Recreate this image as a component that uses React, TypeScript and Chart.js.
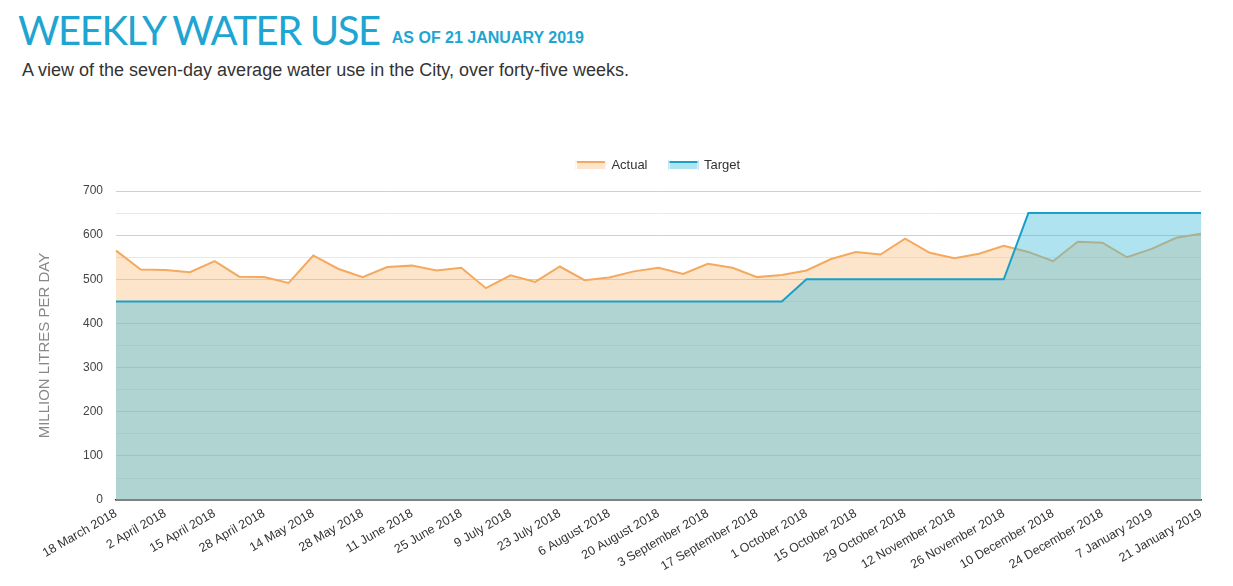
import { useEffect, useRef } from 'react';
import { Chart, registerables } from 'chart.js';

Chart.register(...registerables);

// labels shown under the axis, one every second week
const tickLabels = [
  '18 March 2018', '2 April 2018', '15 April 2018', '28 April 2018', '14 May 2018',
  '28 May 2018', '11 June 2018', '25 June 2018', '9 July 2018', '23 July 2018',
  '6 August 2018', '20 August 2018', '3 September 2018', '17 September 2018',
  '1 October 2018', '15 October 2018', '29 October 2018', '12 November 2018',
  '26 November 2018', '10 December 2018', '24 December 2018', '7 January 2019',
  '21 January 2019',
];

const actual = [
  565, 522, 521, 516, 541, 506, 505, 492, 554, 524,
  505, 528, 531, 520, 526, 480, 509, 494, 529, 498,
  504, 518, 526, 512, 535, 526, 505, 510, 520, 546,
  562, 556, 592, 560, 548, 558, 576, 562, 541, 585,
  583, 550, 569, 594, 603,
];

const target = [
  450, 450, 450, 450, 450, 450, 450, 450, 450, 450,
  450, 450, 450, 450, 450, 450, 450, 450, 450, 450,
  450, 450, 450, 450, 450, 450, 450, 450, 500, 500,
  500, 500, 500, 500, 500, 500, 500, 650, 650, 650,
  650, 650, 650, 650, 650,
];

const weeks = actual.map((_, i) => (i % 2 === 0 ? tickLabels[i / 2] : ''));

const FONT = "'Liberation Sans', Arial, sans-serif";
const LEGEND_PAD = 22;
const LEGEND_FONT = 13;

// centre the legend over the plot area and keep it a fixed gap above it
const legendPlace = {
  id: 'legendPlace',
  afterLayout(chart: any) {
    const legend = chart.legend;
    const area = chart.chartArea;
    if (!legend || !area) return;
    const h = legend.bottom - legend.top;
    legend.left = area.left;
    legend.right = area.right;
    legend.width = area.right - area.left;
    legend.top = area.top - 26 - LEGEND_PAD - LEGEND_FONT / 2;
    legend.bottom = legend.top + h;
  },
};

// legend swatch: a filled box with a coloured line on top
const legendLines = {
  id: 'legendLines',
  afterDraw(chart: any) {
    const legend = chart.legend;
    if (!legend || !legend.legendHitBoxes) return;
    const ctx = chart.ctx;
    legend.legendHitBoxes.forEach((box: any, i: number) => {
      const item = legend.legendItems[i];
      const ds = chart.data.datasets[item.datasetIndex];
      const h = 8;
      const y = box.top + (box.height - h) / 2;
      ctx.save();
      ctx.fillStyle = '#fff';
      ctx.fillRect(box.left - 1, y - 2, 30, h + 4);
      ctx.fillStyle = ds.legendFill;
      ctx.fillRect(box.left, y, 28, h);
      ctx.strokeStyle = ds.borderColor;
      ctx.lineWidth = 2;
      ctx.beginPath();
      ctx.moveTo(box.left, y + 1);
      ctx.lineTo(box.left + 28, y + 1);
      ctx.stroke();
      ctx.restore();
    });
  },
};

function WaterChart() {
  const canvasRef = useRef<HTMLCanvasElement>(null);
  const chartRef = useRef<Chart | null>(null);

  useEffect(() => {
    if (!canvasRef.current) return;
    const ctx = canvasRef.current.getContext('2d');
    if (!ctx) return;

    chartRef.current = new Chart(ctx, {
      type: 'line',
      plugins: [legendPlace, legendLines],
      data: {
        labels: weeks,
        datasets: [
          {
            label: 'Actual',
            data: actual,
            borderColor: '#f4a95f',
            backgroundColor: 'rgba(250, 190, 127, 0.4)',
            legendFill: '#fde5cc',
            fill: 'origin',
            borderWidth: 2,
            pointRadius: 0,
            tension: 0,
            order: 1,
          } as any,
          {
            label: 'Target',
            data: target,
            borderColor: '#1aa0c8',
            backgroundColor: 'rgba(67, 188, 219, 0.42)',
            legendFill: '#b0e3f0',
            fill: 'origin',
            borderWidth: 2,
            pointRadius: 0,
            tension: 0,
            order: 0,
          } as any,
        ],
      },
      options: {
        animation: false,
        responsive: true,
        maintainAspectRatio: false,
        layout: { padding: { left: 36, right: 32, top: 12, bottom: 0 } },
        plugins: {
          tooltip: { enabled: false },
          legend: {
            display: true,
            position: 'top',
            labels: {
              color: '#333',
              font: { family: FONT, size: LEGEND_FONT },
              boxWidth: 28,
              boxHeight: 8,
              padding: LEGEND_PAD,
              sort: (a: any, b: any) => a.datasetIndex - b.datasetIndex,
            },
          },
        },
        scales: {
          x: {
            offset: false,
            grid: { display: false, drawTicks: false },
            border: { display: true, color: '#333', width: 1.5 },
            ticks: {
              autoSkip: false,
              minRotation: 30,
              maxRotation: 30,
              color: '#333',
              padding: 6,
              font: { family: FONT, size: 12.5 },
            },
          },
          y: {
            min: 0,
            max: 700,
            border: { display: false },
            grid: {
              drawTicks: false,
              color: (c: any) => (c.tick && c.tick.value % 100 === 0 ? '#cfcfcf' : '#e8e8e8'),
            },
            ticks: {
              stepSize: 50,
              color: '#444',
              padding: 13,
              font: { family: FONT, size: 12 },
              callback: (val: any) => (Number(val) % 100 === 0 ? String(val) : ''),
            },
            title: {
              display: true,
              text: 'MILLION LITRES PER DAY',
              color: '#888',
              padding: { top: 0, bottom: 16 },
              font: { family: FONT, size: 15 },
            },
          },
        },
      },
    });

    return () => {
      if (chartRef.current) {
        chartRef.current.destroy();
        chartRef.current = null;
      }
    };
  }, []);

  return (
    <div style={{ position: 'absolute', left: 0, top: 134, width: 1233, height: 446 }}>
      <canvas ref={canvasRef} />
    </div>
  );
}

export default function App() {
  return (
    <div style={{ position: 'absolute', left: 0, top: 0, width: 1233, height: 586, background: '#fff' }}>
      <div style={{ position: 'absolute', left: 18, top: 6, whiteSpace: 'nowrap' }}>
        <span
          style={{
            fontFamily: 'Lato, sans-serif',
            fontSize: 40,
            color: '#1ea5d1',
            letterSpacing: -1.4,
          }}
        >
          WEEKLY WATER USE
        </span>
        <span
          style={{
            fontFamily: FONT,
            fontWeight: 'bold',
            fontSize: 16,
            color: '#1ea5d1',
            marginLeft: 12,
            position: 'relative',
            top: -2,
          }}
        >
          AS OF 21 JANUARY 2019
        </span>
      </div>
      <div
        style={{
          position: 'absolute',
          left: 22,
          top: 60,
          fontFamily: FONT,
          fontSize: 18,
          color: '#333',
          whiteSpace: 'nowrap',
        }}
      >
        A view of the seven-day average water use in the City, over forty-five weeks.
      </div>
      <WaterChart />
    </div>
  );
}
